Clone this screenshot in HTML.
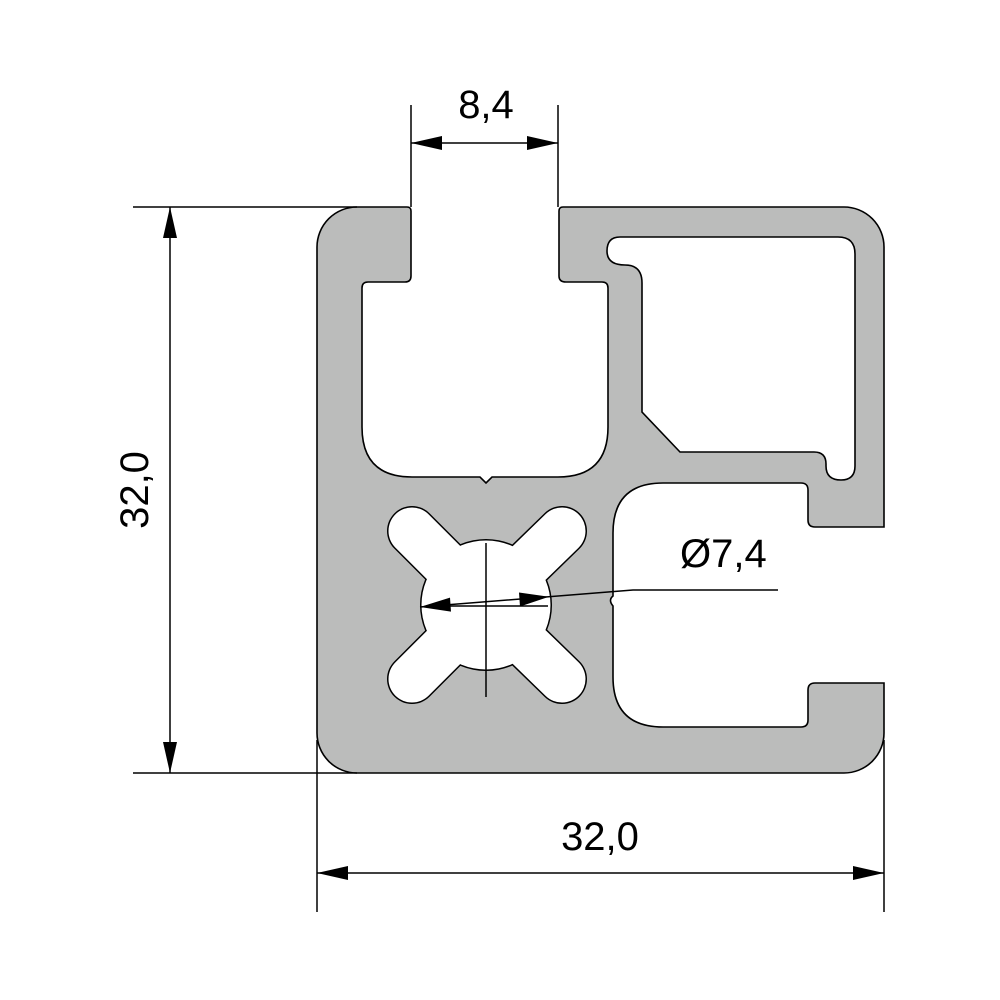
<!DOCTYPE html>
<html><head><style>html,body{margin:0;padding:0;background:#fff}svg{display:block}</style></head>
<body>
<svg width="1000" height="1000" viewBox="0 0 1000 1000" xmlns="http://www.w3.org/2000/svg" font-family="'Liberation Sans', 'DejaVu Sans', sans-serif">
<!-- profile -->
<path fill="#bbbcbb" stroke="#000" stroke-width="1.6" fill-rule="evenodd" d="
M357,207 L407,207 Q411,207 411,211 L411,276 Q411,282 405,282 L368,282 Q362,282 362,288 L362,427 Q362,477 412,477 L480,477 L486,483 L492,477 L558,477 Q608,477 608,427 L608,288 Q608,282 602,282 L566,282 Q559,282 559,276 L559,211 Q559,207 563,207 L844,207 A40,40 0 0 1 884,247 L884,527 L815,527 Q808,527 808,520 L808,490 Q808,483 801,483 L663,483 Q613,483 613,533 L613,596 Q608,600 613,606 L613,677 Q613,727 663,727 L801,727 Q808,727 808,720 L808,690 Q808,683 815,683 L884,683 L884,733 A40,40 0 0 1 844,773 L357,773 A40,40 0 0 1 317,733 L317,247 A40,40 0 0 1 357,207 Z
M620,237 L838,237 Q855,237 855,254 L855,466 Q855,480 841,480 Q826,480 826,466 L826,464 Q826,452 814,452 L680,452 L642,412 L642,283 Q642,265 625,265 Q607,265 607,251 Q607,237 620,237 Z"/>
<!-- star hole: outline layer -->
<g stroke="#000" stroke-linecap="round" fill="none">
<line x1="486" y1="605" x2="412" y2="531" stroke-width="50"/>
<line x1="486" y1="605" x2="562" y2="531" stroke-width="50"/>
<line x1="486" y1="605" x2="412" y2="679" stroke-width="50"/>
<line x1="486" y1="605" x2="562" y2="679" stroke-width="50"/>
</g>
<circle cx="486" cy="605" r="66" fill="#000"/>
<g stroke="#fff" stroke-linecap="round" fill="none">
<line x1="486" y1="605" x2="412" y2="531" stroke-width="47"/>
<line x1="486" y1="605" x2="562" y2="531" stroke-width="47"/>
<line x1="486" y1="605" x2="412" y2="679" stroke-width="47"/>
<line x1="486" y1="605" x2="562" y2="679" stroke-width="47"/>
</g>
<circle cx="486" cy="605" r="64.5" fill="#fff"/>
<!-- dimension lines -->
<g stroke="#000" stroke-width="1.5" fill="none">
<line x1="133" y1="207" x2="357" y2="207"/>
<line x1="133" y1="773" x2="357" y2="773"/>
<line x1="170" y1="207" x2="170" y2="773"/>
<line x1="317" y1="740" x2="317" y2="912"/>
<line x1="884" y1="740" x2="884" y2="912"/>
<line x1="317" y1="873" x2="884" y2="873"/>
<line x1="411" y1="105" x2="411" y2="207"/>
<line x1="558" y1="105" x2="558" y2="207"/>
<line x1="411" y1="143" x2="558" y2="143"/>
<line x1="486" y1="543" x2="486" y2="697"/>
<line x1="426" y1="606" x2="548" y2="606"/>
<polyline points="420,607 633,590 778,590"/>
</g>
<g fill="#000">
<polygon points="170,207 163,238 177,238"/>
<polygon points="170,773 163,742 177,742"/>
<polygon points="317,873 348,866 348,880"/>
<polygon points="884,873 853,866 853,880"/>
<polygon points="411,143 442,136 442,150"/>
<polygon points="558,143 527,136 527,150"/>
<polygon points="420,607 450,597.6 451,611.6"/>
<polygon points="549,596.8 519,592.5 520,606.5"/>
</g>
<g font-size="40" fill="#000">
<text x="486" y="118" text-anchor="middle">8,4</text>
<text x="600" y="850" text-anchor="middle">32,0</text>
<text transform="translate(148,490) rotate(-90)" text-anchor="middle">32,0</text>
<text x="680" y="567">Ø7,4</text>
</g>
</svg>
</body></html>
